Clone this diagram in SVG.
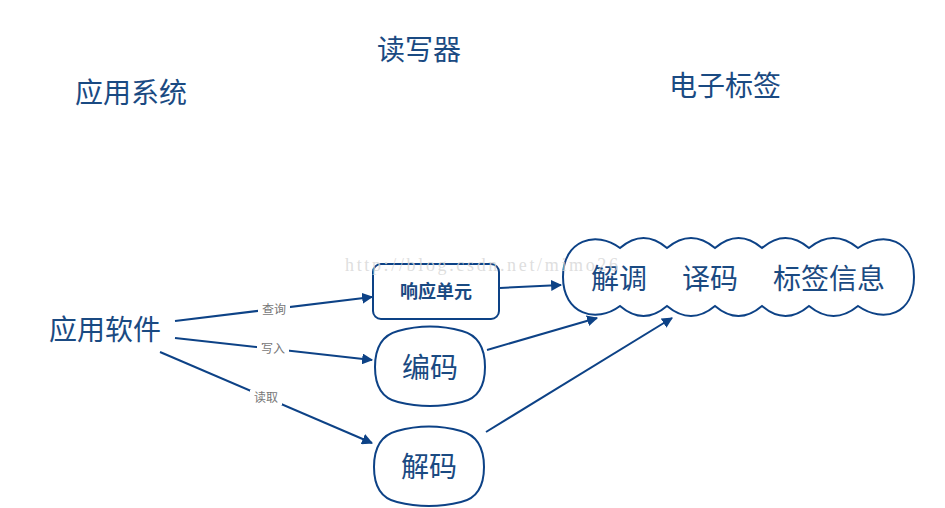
<svg xmlns="http://www.w3.org/2000/svg" width="945" height="508" viewBox="0 0 945 508">
<style>
.t{font-family:"Noto Sans CJK SC","Noto Sans",sans-serif;fill:#1a4a82}
.shape{fill:#fff;stroke:#0d4286;stroke-width:2}
.edge{stroke:#0d4286;stroke-width:2;fill:none}
.lbl{font-family:"Noto Sans CJK SC",sans-serif;font-size:12px;fill:#777}
</style>
<defs>
<marker id="ah" viewBox="0 0 10 10" refX="9" refY="5" markerWidth="5.5" markerHeight="5.5" orient="auto" markerUnits="strokeWidth">
<path d="M0 0 L10 5 L0 10 Z" fill="#0d4286"/>
</marker>
</defs>
<rect width="945" height="508" fill="#fff"/>
<text x="419" y="60" class="t" font-size="28" text-anchor="middle">读写器</text>
<text x="131" y="103" class="t" font-size="28" text-anchor="middle">应用系统</text>
<text x="725" y="96" class="t" font-size="28" text-anchor="middle">电子标签</text>
<g id="connectors">
<line class="edge" x1="175" y1="321" x2="372" y2="297" marker-end="url(#ah)"/>
<line class="edge" x1="175" y1="338" x2="372" y2="360" marker-end="url(#ah)"/>
<line class="edge" x1="160" y1="352" x2="372" y2="443" marker-end="url(#ah)"/>
<line class="edge" x1="500" y1="288" x2="561" y2="285" marker-end="url(#ah)"/>
<line class="edge" x1="487" y1="350" x2="597" y2="318" marker-end="url(#ah)"/>
<line class="edge" x1="486" y1="432" x2="672" y2="318" marker-end="url(#ah)"/>
<rect x="258" y="302" width="32" height="15" fill="#fff"/>
<text x="274" y="314" class="lbl" text-anchor="middle">查询</text>
<rect x="257" y="341" width="32" height="15" fill="#fff"/>
<text x="273" y="353" class="lbl" text-anchor="middle">写入</text>
<rect x="250" y="390" width="32" height="15" fill="#fff"/>
<text x="266" y="402" class="lbl" text-anchor="middle">读取</text>
</g>
<g id="app">
<text x="105" y="340" class="t" font-size="28" text-anchor="middle">应用软件</text>
</g>
<g id="response">
<rect class="shape" x="373" y="264" width="126" height="55" rx="8"/>
<text x="436" y="298" class="t" font-size="18" font-weight="bold" text-anchor="middle">响应单元</text>
</g>
<g id="encode">
<path class="shape" d="M398 331 Q430 322 462 331 Q485 337 485 367 Q485 397 462 402 Q430 410 398 402 Q375 397 375 367 Q375 337 398 331 Z"/>
<text x="430" y="378" class="t" font-size="28" text-anchor="middle">编码</text>
</g>
<g id="decode">
<path class="shape" d="M397 431 Q429 422 461 431 Q484 437 484 467 Q484 497 461 502 Q429 510 397 502 Q374 497 374 467 Q374 437 397 431 Z"/>
<text x="429" y="477" class="t" font-size="28" text-anchor="middle">解码</text>
</g>
<g id="tag">
<path class="shape" d="M620 248 Q643.5 228 667 248 Q691 228 715 248 Q738.5 228 762 248 Q785.5 228 809 248 Q833.5 228 858 248 C884 230 914 240 914 277 C914 314 884 324 858 306 Q833.5 326 809 306 Q785.5 326 762 306 Q738.5 326 715 306 Q691 326 667 306 Q643.5 326 620 306 C596 324 563 314 563 277 C563 240 596 230 620 248 Z"/>
<text x="619" y="289" class="t" font-size="28" text-anchor="middle">解调</text>
<text x="710" y="289" class="t" font-size="28" text-anchor="middle">译码</text>
<text x="829" y="289" class="t" font-size="28" text-anchor="middle">标签信息</text>
</g>
<text x="345" y="271" font-family="Liberation Serif,serif" font-size="18" fill="#d6d6d6" fill-opacity="0.8" textLength="273" lengthAdjust="spacing">http://blog.csdn.net/mimo26</text>
</svg>
